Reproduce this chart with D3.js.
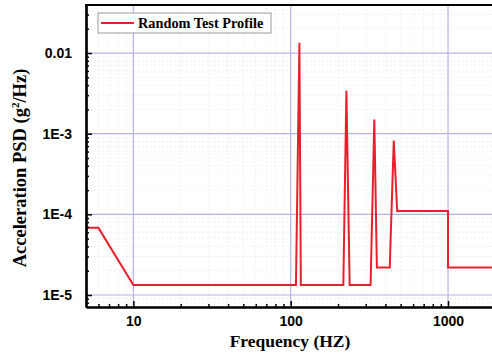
<!DOCTYPE html>
<html>
<head>
<meta charset="utf-8">
<script src="https://cdn.jsdelivr.net/npm/d3@7"></script>
<style>
  body { margin: 0; background: #fff; }
  svg { display: block; }
</style>
</head>
<body>
<div id="chart"></div>
<script>
// test profile (Hz, g^2/Hz)
const freq = [5, 6, 10, 108, 113.6, 116, 216, 226, 237, 322, 340, 353, 426, 452, 475, 1000, 1000, 2000];
const psd = [6.8e-5, 6.8e-5, 1.33e-5, 1.33e-5, 0.0134, 1.33e-5, 1.33e-5, 3.4e-3, 1.33e-5, 1.33e-5, 1.5e-3, 2.2e-5, 2.2e-5, 8.2e-4, 1.1e-4, 1.1e-4, 2.2e-5, 2.2e-5];

const xTicks = [10, 100, 1000];
const xTickLabels = ['10', '100', '1000'];
const yTicks = [1e-5, 1e-4, 1e-3, 1e-2];
const yTickLabels = ['1E-5', '1E-4', '1E-3', '0.01'];
const seriesName = 'Random Test Profile';

const W = 492, H = 363;
const plotLeft = 86, plotTop = 5, plotBottom = 307;

const svg = d3.select('#chart').append('svg')
  .attr('width', W)
  .attr('height', H);

const x = d3.scaleLog().domain([5, 2000]).range([plotLeft, 495.4]);
const y = d3.scaleLog().domain([7.1e-6, 0.0394]).range([plotBottom, plotTop]);

// minor values
const xMinor = [];
[1, 10, 100, 1000].forEach(d => { for (let k = 2; k < 10; k++) { const v = d * k; if (v > 5 && v < 2000) xMinor.push(v); } });
const yMinor = [];
[1e-6, 1e-5, 1e-4, 1e-3, 1e-2].forEach(d => { for (let k = 2; k < 10; k++) { const v = d * k; if (v > 7.1e-6 && v < 0.0394) yMinor.push(v); } });

svg.append('defs').append('clipPath').attr('id', 'clip')
  .append('rect').attr('x', plotLeft).attr('y', plotTop).attr('width', W - plotLeft).attr('height', plotBottom - plotTop);

const grid = svg.append('g');
// faint minor grid
grid.selectAll('.xm').data(xMinor).enter().append('line')
  .attr('x1', d => x(d)).attr('x2', d => x(d)).attr('y1', plotTop).attr('y2', plotBottom)
  .attr('stroke', '#f1f1f5').attr('stroke-dasharray', '2,2');
grid.selectAll('.ym').data(yMinor).enter().append('line')
  .attr('x1', plotLeft).attr('x2', W).attr('y1', d => y(d)).attr('y2', d => y(d))
  .attr('stroke', '#f1f1f5').attr('stroke-dasharray', '2,2');
// major grid
grid.selectAll('.xg').data(xTicks).enter().append('line')
  .attr('x1', d => x(d)).attr('x2', d => x(d)).attr('y1', plotTop).attr('y2', plotBottom)
  .attr('stroke', '#b4b4e8').attr('stroke-width', 1.2);
grid.selectAll('.yg').data(yTicks).enter().append('line')
  .attr('x1', plotLeft).attr('x2', W).attr('y1', d => y(d)).attr('y2', d => y(d))
  .attr('stroke', '#b4b4e8').attr('stroke-width', 1.2);

// profile line
const line = d3.line().x((d, i) => x(freq[i])).y(d => y(d));
svg.append('path')
  .datum(psd)
  .attr('clip-path', 'url(#clip)')
  .attr('d', line)
  .attr('fill', 'none')
  .attr('stroke', '#e8202c')
  .attr('stroke-width', 2)
  .attr('stroke-linejoin', 'miter');

// axes with inward ticks
const xAxis = d3.axisBottom(x).tickValues(xTicks).tickFormat((d, i) => xTickLabels[i])
  .tickSizeInner(-6).tickSizeOuter(0).tickPadding(9);
svg.append('g').attr('class', 'x-axis')
  .attr('transform', `translate(0, ${plotBottom})`)
  .call(xAxis);

const xMinorAxis = d3.axisBottom(x).tickValues(xMinor).tickFormat('').tickSizeInner(-3).tickSizeOuter(0);
svg.append('g').attr('class', 'x-minor')
  .attr('transform', `translate(0, ${plotBottom})`)
  .call(xMinorAxis);

const yAxis = d3.axisLeft(y).tickValues(yTicks).tickFormat((d, i) => yTickLabels[i])
  .tickSizeInner(-6).tickSizeOuter(0).tickPadding(14);
svg.append('g').attr('class', 'y-axis')
  .attr('transform', `translate(${plotLeft}, 0)`)
  .call(yAxis);

const yMinorAxis = d3.axisLeft(y).tickValues(yMinor).tickFormat('').tickSizeInner(-3).tickSizeOuter(0);
svg.append('g').attr('class', 'y-minor')
  .attr('transform', `translate(${plotLeft}, 0)`)
  .call(yMinorAxis);

// giving colour and weight to axis parts
svg.selectAll('.x-axis path, .y-axis path, .x-minor path, .y-minor path')
  .attr('stroke', '#000').attr('stroke-width', 2.2);
svg.selectAll('.x-axis line, .y-axis line, .x-minor line, .y-minor line')
  .attr('stroke', '#000').attr('stroke-width', 1.5);
svg.selectAll('.x-axis text, .y-axis text')
  .attr('fill', '#000')
  .style('font-family', '"Liberation Sans", Arial, sans-serif')
  .style('font-weight', 'bold')
  .style('font-size', '14px');

// top frame
svg.append('line')
  .attr('x1', plotLeft - 1).attr('x2', W).attr('y1', plotTop).attr('y2', plotTop)
  .attr('stroke', '#000').attr('stroke-width', 2.2);

// axis titles
svg.append('text')
  .attr('x', 290).attr('y', 347)
  .attr('text-anchor', 'middle')
  .style('font-family', '"Liberation Serif", "Times New Roman", serif')
  .style('font-weight', 'bold')
  .style('font-size', '17.5px')
  .text('Frequency (HZ)');

const yTitle = svg.append('text')
  .attr('transform', 'translate(26, 168) rotate(-90)')
  .attr('text-anchor', 'middle')
  .style('font-family', '"Liberation Serif", "Times New Roman", serif')
  .style('font-weight', 'bold')
  .style('font-size', '18.5px');
yTitle.append('tspan').text('Acceleration PSD (g');
yTitle.append('tspan').attr('dy', -7).style('font-size', '11px').text('2');
yTitle.append('tspan').attr('dy', 7).text('/Hz)');

// legend
const legend = svg.append('g');
legend.append('rect')
  .attr('x', 98).attr('y', 13).attr('width', 173).attr('height', 20)
  .attr('fill', '#fff').attr('stroke', '#9a9a9a').attr('stroke-width', 1);
legend.append('line')
  .attr('x1', 101).attr('x2', 134).attr('y1', 23).attr('y2', 23)
  .attr('stroke', '#e8202c').attr('stroke-width', 2);
legend.append('text')
  .attr('x', 138).attr('y', 28)
  .style('font-family', '"Liberation Serif", "Times New Roman", serif')
  .style('font-weight', 'bold')
  .style('font-size', '14.3px')
  .text(seriesName);
</script>
</body>
</html>
